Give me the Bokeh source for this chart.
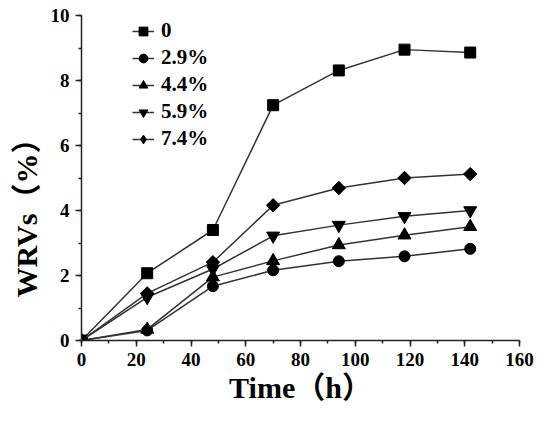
import numpy as np
from bokeh.plotting import figure
from bokeh.models import Range1d, Legend, Title, SingleIntervalTicker
from bokeh.embed import file_html
from bokeh.resources import INLINE

time_h = [0, 24, 48, 70, 94, 118, 142]
series_labels = ["0", "2.9%", "4.4%", "5.9%", "7.4%"]
wrv_0 = [0, 2.07, 3.40, 7.24, 8.31, 8.95, 8.86]
wrv_29 = [0, 0.31, 1.67, 2.16, 2.44, 2.59, 2.82]
wrv_44 = [0, 0.34, 1.95, 2.45, 2.94, 3.24, 3.50]
wrv_59 = [0, 1.33, 2.20, 3.22, 3.55, 3.82, 4.00]
wrv_74 = [0, 1.45, 2.41, 4.16, 4.69, 5.00, 5.12]

FONT = "Liberation Serif, Noto Sans CJK SC"

p = figure(width=534, height=408, output_backend="svg", toolbar_location=None,
           x_range=Range1d(0, 160), y_range=Range1d(0, 10),
           min_border_left=81, min_border_right=15, min_border_top=15, min_border_bottom=68)
p.background_fill_color = None
p.border_fill_color = "white"
p.outline_line_color = None
p.grid.visible = False

# (values, plot marker, size, angle, legend marker)
styles = [
    (wrv_0, "square", 11, 0.0, "square"),
    (wrv_29, "circle", 11, 0.0, "circle"),
    (wrv_44, "triangle", 13, 0.0, "triangle"),
    (wrv_59, "inverted_triangle", 13, 0.0, "inverted_triangle"),
    (wrv_74, "square", 9.5, np.pi / 4, "diamond"),
]
items = []
for (vals, marker, size, ang, lmarker), lab in zip(styles, series_labels):
    l = p.line(time_h, vals, line_color="#333333", line_width=1.5)
    s = p.scatter(time_h, vals, marker=marker, size=size, angle=ang,
                  fill_color="black", line_color="black")
    if lmarker == marker:
        items.append((lab, [l, s]))
    else:
        # legend-only glyph placed outside the visible ranges
        ls = p.scatter([-1000], [-1000], marker=lmarker, size=14,
                       fill_color="black", line_color="black")
        items.append((lab, [l, ls]))

legend = Legend(items=items, location=(51, 189), orientation="vertical")
legend.border_line_color = None
legend.background_fill_alpha = 0
legend.padding = 0
legend.margin = 0
legend.spacing = 2
legend.glyph_width = 22
legend.glyph_height = 24
legend.label_height = 24
legend.label_standoff = 7
legend.label_text_font = FONT
legend.label_text_font_style = "bold"
legend.label_text_font_size = "21px"
legend.label_text_color = "black"
p.add_layout(legend, "center")

p.xaxis.ticker = SingleIntervalTicker(interval=20, num_minor_ticks=2)
p.yaxis.ticker = SingleIntervalTicker(interval=2, num_minor_ticks=2)

for ax in (p.xaxis, p.yaxis):
    ax.axis_line_color = "#222222"
    ax.axis_line_width = 1.5
    ax.major_tick_line_color = "#222222"
    ax.major_tick_line_width = 1.5
    ax.minor_tick_line_color = "#222222"
    ax.minor_tick_line_width = 1.5
    ax.major_tick_out = 6
    ax.major_tick_in = 0
    ax.minor_tick_out = 3
    ax.minor_tick_in = 0
    ax.major_label_text_font = FONT
    ax.major_label_text_font_style = "bold"
    ax.major_label_text_font_size = "19px"
    ax.major_label_text_color = "black"

p.xaxis.major_label_standoff = 6
p.yaxis.major_label_standoff = 6

p.xaxis.axis_label = "Time（h）"
p.xaxis.axis_label_text_font = FONT
p.xaxis.axis_label_text_font_style = "bold"
p.xaxis.axis_label_text_font_size = "30px"
p.xaxis.axis_label_text_color = "black"
p.xaxis.axis_label_standoff = 2

ytitle = Title(text="WRVs（%）", align="left", offset=43,
               text_font=FONT, text_font_style="bold", text_font_size="30px",
               text_color="black")
p.add_layout(ytitle, "left")

open("out.html", "w").write(file_html(p, INLINE))
